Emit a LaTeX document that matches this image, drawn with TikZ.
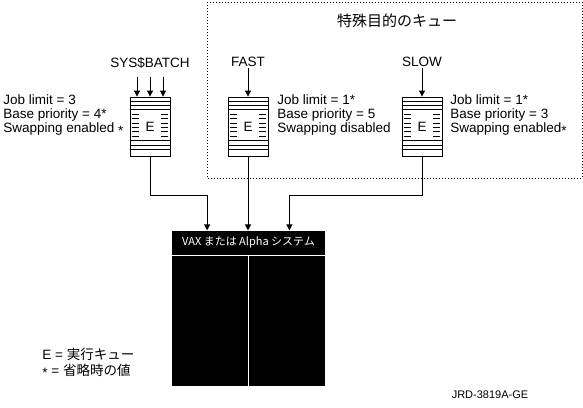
\documentclass[tikz,border=0pt]{standalone}
\usepackage{fontspec}
\setmainfont{Liberation Sans}
\newfontfamily\jp{Noto Sans CJK JP}
\usetikzlibrary{arrows.meta,calc}

\begin{document}
\begin{tikzpicture}[x=1pt,y=-1pt,line width=.8pt,
queue/.style={draw,minimum width=40pt,minimum height=59pt,inner sep=0pt,font=\fontsize{13.5}{14}\selectfont},
lbl/.style={inner sep=1pt,font=\fontsize{13.5}{14}\selectfont},
info/.style={anchor=west,align=left,inner sep=0pt,font=\fontsize{13.5}{14}\selectfont},
sysbox/.style={fill=black,minimum width=153pt,minimum height=155pt,inner sep=0pt},
arr/.style={-{Triangle[length=6pt,width=6pt]}}]
\useasboundingbox (0,0) rectangle (583,407);
\draw[dash pattern=on .8pt off 2.2pt] (207,2) rectangle (582,178);
\node[font=\fontsize{15}{15}\selectfont] at (397,21)(ttl){\jp 特殊目的のキュー};
\node[queue] at (150,126.5)(batch){E};
\node[queue] at (248,126.5)(fast){E};
\node[queue] at (422,126.5)(slow){E};
\foreach \q in {batch,fast,slow}{
 \foreach \k in {1,2,3,10,11,12}\draw ($(\q.north west)+(0,\k*4.4)$)--($(\q.north east)+(0,\k*4.4)$);
 \foreach \k in {4,...,9}{\draw ($(\q.north west)+(2,\k*4.4)$)--++(7,0);\draw ($(\q.north east)+(-2,\k*4.4)$)--++(-7,0);}
}
\node[lbl] at (150,63)(sysb){SYS\$BATCH};
\node[lbl] at (248,62)(fastl){FAST};
\node[lbl] at (422,62)(slowl){SLOW};
\node[info] at (3,115)(binfo){Job limit = 3\\Base priority = 4*\\Swapping enabled \raisebox{-3pt}{*}};
\node[info] at (277,115)(finfo){Job limit = 1*\\Base priority = 5\\Swapping disabled};
\node[info] at (450,115)(sinfo){Job limit = 1*\\Base priority = 3\\Swapping enabled\raisebox{-3pt}{*}};
\node[sysbox] at (248.5,308.3)(sys){};
\node[text=white,inner sep=0pt,font=\fontsize{11}{11}\selectfont] at ([yshift=-12pt]sys.north)(hdr){\jp VAX または Alpha システム};
\draw[white] ([yshift=-25pt]sys.north west)--([yshift=-25pt]sys.north east);
\draw[white] ([yshift=-25pt]sys.north)--(sys.south);
\foreach \d in {-13,0,13}\draw[arr] ([xshift=\d pt,yshift=20pt]batch.north)--([xshift=\d pt]batch.north);
\draw[arr](fastl)--(fast);\draw[arr](slowl)--(slow);
\draw[arr](batch.south)--++(0,39)-|([xshift=35.5pt]sys.north west);
\draw[arr](fast.south)--(fast.south|-sys.north);
\draw[arr](slow.south)--++(0,39)-|([xshift=-36pt]sys.north east);
\node[anchor=west,align=left,inner sep=0pt,font=\fontsize{13.5}{16}\selectfont] at (42,363)(leg){E = {\jp 実行キュー}\\\raisebox{-2pt}{*} = {\jp 省略時の値}};
\node[inner sep=0pt,font=\fontsize{11}{11}\selectfont] at (490,395)(fig){JRD-3819A-GE};
\end{tikzpicture}
\end{document}
